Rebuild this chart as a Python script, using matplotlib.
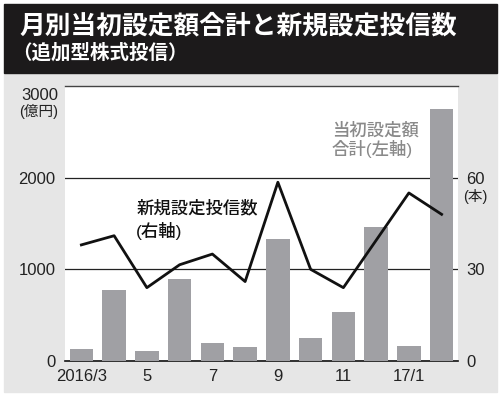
import matplotlib.pyplot as plt
from matplotlib.patches import Rectangle

plt.rcParams['font.family'] = ['Liberation Sans', 'Noto Sans CJK JP']

# データ
months = ['2016/3', '4', '5', '6', '7', '8', '9', '10', '11', '12', '17/1', '2']
tick_labels = ['2016/3', '', '5', '', '7', '', '9', '', '11', '', '17/1', '']
amount = [127, 775, 113, 891, 193, 156, 1331, 255, 531, 1465, 167, 2749]  # 億円
new_funds = [38, 41, 24, 31.5, 35, 26, 58.5, 30, 24, 39.5, 55, 48]        # 本

fig = plt.figure(figsize=(5, 3.96), dpi=100)
fig.patch.set_facecolor('white')

# 背景（灰色パネルと黒いタイトル帯）
fig.add_artist(Rectangle((4/500, 1-392/396), 493/500, (392-73)/396,
                         transform=fig.transFigure, color='#e6e6e6', zorder=0))
fig.add_artist(Rectangle((4/500, 1-73/396), 493/500, 69/396,
                         transform=fig.transFigure, color='#1c1a1b', zorder=0))
fig.text(19/500, 1-26/396, '月別当初設定額合計と新規設定投信数', color='white',
         fontsize=18.5, fontweight='bold', va='center', ha='left')
fig.text(12/500, 1-53/396, '（追加型株式投信）', color='white',
         fontsize=14, fontweight='bold', va='center', ha='left')

ax = fig.add_axes([65/500, 1-361/396, 393/500, 275/396])
ax.set_facecolor('white')
x = range(len(months))
ax.bar(x, amount, width=0.72, color='#a0a0a4', zorder=3)
ax.set_xlim(-0.5, 11.5)
ax.set_ylim(0, 3000)
ax.set_yticks([0, 1000, 2000])
ax.set_yticklabels(['0', '1000', '2000'])
ax.set_xticks(list(x))
ax.set_xticklabels(tick_labels)
ax.grid(axis='y', color='#222222', linewidth=0.9, zorder=1)
for s in ['left', 'right']:
    ax.spines[s].set_visible(False)
ax.spines['top'].set_color('#444444')
ax.spines['top'].set_linewidth(1.0)
ax.spines['bottom'].set_color('#111111')
ax.spines['bottom'].set_linewidth(1.2)
ax.tick_params(axis='both', length=0, labelsize=12, colors='#222222')
ax.tick_params(axis='y', pad=7)
ax.tick_params(axis='x', pad=6)
fig.text(58/500, 1-95/396, '3000', ha='right', va='center', fontsize=12, color='#222222')
fig.text(58/500, 1-111/396, '(億円)', ha='right', va='center', fontsize=10.5, color='#222222')

ax2 = ax.twinx()
ax2.plot(list(x), new_funds, color='#111111', linewidth=2.0, zorder=4)
ax2.set_ylim(0, 90)
ax2.set_yticks([0, 30, 60])
ax2.tick_params(axis='y', length=0, labelsize=12, colors='#222222', pad=6)
for s in ax2.spines.values():
    s.set_visible(False)
fig.text(463/500, 1-197/396, '(本)', ha='left', va='center', fontsize=10.5, color='#222222')

fig.text(137/500, 1-208/396, '新規設定投信数', ha='left', va='center',
         fontsize=12.5, fontweight='medium', color='#111111')
fig.text(136/500, 1-231/396, '(右軸)', ha='left', va='center',
         fontsize=12.5, fontweight='medium', color='#111111')
fig.text(332/500, 1-130/396, '当初設定額', ha='left', va='center',
         fontsize=12.5, fontweight='medium', color='#8a8a8a')
fig.text(332/500, 1-149/396, '合計(左軸)', ha='left', va='center',
         fontsize=12.5, fontweight='medium', color='#8a8a8a')

fig.savefig('out.png', dpi=100)
